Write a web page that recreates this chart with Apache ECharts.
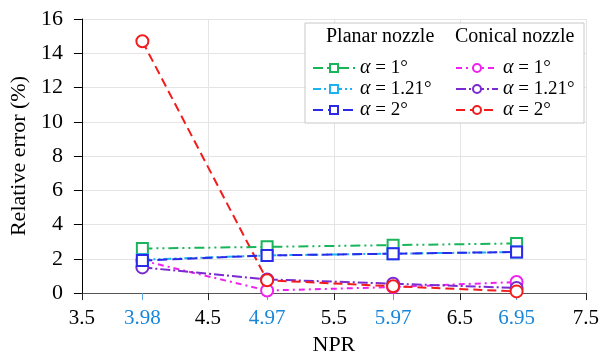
<!DOCTYPE html>
<html>
<head>
<meta charset="utf-8">
<script src="https://cdn.jsdelivr.net/npm/echarts@6/dist/echarts.min.js"></script>
<style>
  html, body { margin: 0; padding: 0; background: #fff; }
</style>
</head>
<body>
<div id="main" style="width: 602px; height: 361px"></div>
<script>
// NPR values where the runs were made
var npr = [3.98, 4.97, 5.97, 6.95];
var majorTicks = [3.5, 4.5, 5.5, 6.5, 7.5];

// relative error (%) per nozzle / angle
var planar1 = [2.6, 2.7, 2.8, 2.9];
var planar121 = [1.95, 2.2, 2.3, 2.4];
var planar2 = [1.9, 2.2, 2.3, 2.4];
var conical1 = [1.9, 0.15, 0.35, 0.65];
var conical121 = [1.5, 0.8, 0.55, 0.3];
var conical2 = [14.7, 0.75, 0.4, 0.1];

var serif = "Liberation Serif";

function pairs(ys) {
  var out = [];
  for (var i = 0; i < npr.length; i++) {
    out.push([npr[i], ys[i]]);
  }
  return out;
}

function makeSeries(name, ys, color, dash, symbol, z) {
  return {
    name: name,
    type: "line",
    data: pairs(ys),
    symbol: symbol,
    symbolSize: symbol == "rect" ? 11 : 12,
    showAllSymbol: true,
    itemStyle: { color: "#fff", borderColor: color, borderWidth: 2 },
    lineStyle: { color: color, width: 2, type: dash },
    emphasis: { disabled: true },
    z: z,
  };
}

var legendText = {
  fontFamily: serif,
  fontSize: 19,
  color: "#000",
  rich: { i: { fontStyle: "italic", fontFamily: serif, fontSize: 20 } },
};

var chart = echarts.init(document.getElementById("main"));
chart.setOption({
  animation: false,
  grid: { left: 76, right: 15, top: 19, bottom: 65 },
  xAxis: [
    {
      type: "value",
      min: 3.5,
      max: 7.5,
      name: "NPR",
      nameLocation: "middle",
      nameGap: 39,
      nameTextStyle: { fontFamily: serif, fontSize: 22, color: "#000" },
      axisLine: { lineStyle: { color: "#555", width: 1 } },
      axisTick: { customValues: majorTicks, length: 7, lineStyle: { color: "#222" } },
      axisLabel: {
        customValues: majorTicks,
        margin: 15,
        fontFamily: serif,
        fontSize: 21,
        color: "#000",
      },
      splitLine: { show: true, lineStyle: { color: "#e4e4e4" } },
    },
    {
      type: "value",
      min: 3.5,
      max: 7.5,
      position: "bottom",
      axisLine: { show: false },
      axisTick: { customValues: npr, length: 7, lineStyle: { color: "#5aa9e6" } },
      axisLabel: {
        customValues: npr,
        margin: 15,
        fontFamily: serif,
        fontSize: 21,
        color: "#1a86d8",
      },
      splitLine: { show: false },
    },
  ],
  yAxis: {
    type: "value",
    min: 0,
    max: 16,
    interval: 2,
    name: "Relative error (%)",
    nameLocation: "middle",
    nameGap: 42,
    nameTextStyle: { fontFamily: serif, fontSize: 22, color: "#000" },
    axisLine: { show: true, lineStyle: { color: "#000" } },
    axisTick: { show: true, length: 8, lineStyle: { color: "#000" } },
    axisLabel: { margin: 19, fontFamily: serif, fontSize: 22, color: "#000" },
    splitLine: { lineStyle: { color: "#e4e4e4" } },
  },
  legend: [
    {
      orient: "vertical",
      left: 307,
      top: 53,
      itemGap: 1,
      itemWidth: 42,
      itemHeight: 10,
      z: 10,
      data: ["p1", "p121", "p2"],
      formatter: function (n) {
        return { p1: "{i|α} = 1°", p121: "{i|α} = 1.21°", p2: "{i|α} = 2°" }[n];
      },
      textStyle: legendText,
    },
    {
      orient: "vertical",
      left: 450,
      top: 53,
      itemGap: 1,
      itemWidth: 42,
      itemHeight: 10,
      z: 10,
      data: ["c1", "c121", "c2"],
      formatter: function (n) {
        return { c1: "{i|α} = 1°", c121: "{i|α} = 1.21°", c2: "{i|α} = 2°" }[n];
      },
      textStyle: legendText,
    },
  ],
  graphic: [
    {
      type: "rect",
      shape: { x: 305, y: 23, width: 279, height: 100 },
      style: { fill: "#fff", stroke: "#c8c8c8", lineWidth: 1 },
      z: 1,
    },
    {
      type: "text",
      left: 326,
      top: 27,
      style: { text: "Planar nozzle", font: "20px " + serif, fill: "#000" },
      z: 10,
    },
    {
      type: "text",
      left: 455,
      top: 27,
      style: { text: "Conical nozzle", font: "20px " + serif, fill: "#000" },
      z: 10,
    },
  ],
  series: [
    makeSeries("c1", conical1, "#f020f0", [6, 4, 2, 4], "circle", 3),
    makeSeries("c121", conical121, "#7a2ad0", [10, 3, 2, 3], "circle", 3),
    makeSeries("c2", conical2, "#f21c1c", [9, 5], "circle", 3),
    makeSeries("p1", planar1, "#19b55a", [10, 4, 2, 4, 2, 4], "rect", 4),
    makeSeries("p121", planar121, "#1cb4f0", [8, 3, 2, 3, 2, 3], "rect", 4),
    makeSeries("p2", planar2, "#2a2ae8", [10, 5], "rect", 4),
  ],
});
</script>
</body>
</html>
